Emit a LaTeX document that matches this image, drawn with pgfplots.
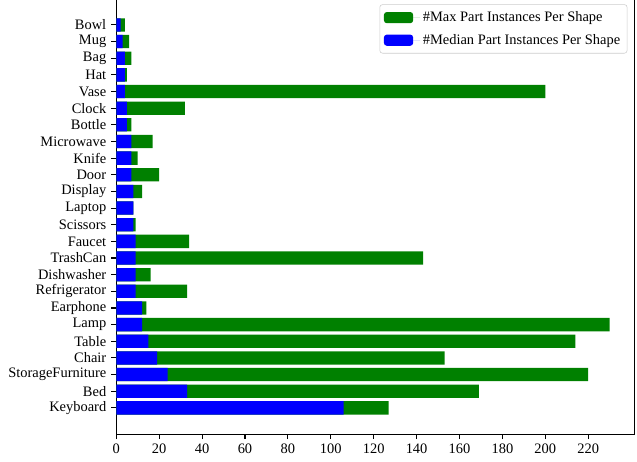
\documentclass[border=0pt]{standalone}
\usepackage{fontspec}
\setmainfont{Liberation Serif}
\usepackage{pgfplots}
\pgfplotsset{compat=1.18}
\definecolor{mplgreen}{HTML}{008000}
\definecolor{mplblue}{HTML}{0000FF}
\begin{document}
\fontsize{10.4bp}{12.4bp}\selectfont
\begin{tikzpicture}
    \begin{axis}[
            scale only axis,
            width=373bp, height=313.8bp,
            xmin=0, xmax=241.5,
            ymin=-1.59, ymax=24.59,
            xtick={0,20,...,220},
            ytick={0,...,23},
            yticklabels={Keyboard,Bed,StorageFurniture,Chair,Table,Lamp,Earphone,Refrigerator,Dishwasher,TrashCan,Faucet,Scissors,Laptop,Display,Door,Knife,Microwave,Bottle,Clock,Vase,Hat,Bag,Mug,Bowl},
            tick align=outside,
            major tick length=3.5bp,
            tick style={line width=0.8bp, black},
            axis line style={line width=0.8bp},
            xtick pos=bottom, ytick pos=left,
            yticklabel style={inner sep=0pt, xshift=-3.5bp},
            xticklabel style={inner sep=0pt, yshift=-3.5bp},
            /pgf/number format/assume math mode=true,
            ticklabel style={font=\fontsize{10.4bp}{12.4bp}\selectfont},
            xbar, bar width=0.8, bar shift=0pt,
            legend cell align=left,
            legend style={
                at={(0.9866,0.9866)}, anchor=north east,
                draw=black!20, rounded corners=2bp, fill=white,
                font=\fontsize{10.4bp}{12.4bp}\selectfont,
                inner xsep=3bp, inner ysep=3bp,
                row sep=3.5bp
            },
            legend image code/.code={
                \fill[#1] (0bp,-4bp) rectangle (21bp,4bp);
                \path (0bp,0bp) -- (26bp,0bp);
            },
        ]
        % max part instances per shape
        \addplot[fill=mplgreen, draw=none] coordinates {
                (127,0) (169,1) (220,2) (153,3) (214,4) (230,5) (14,6) (33,7)
                (16,8) (143,9) (34,10) (9,11) (8,12) (12,13) (20,14) (10,15)
                (17,16) (7,17) (32,18) (200,19) (5,20) (7,21) (6,22) (4,23)
            };
        \addlegendentry{\#Max Part Instances Per Shape}
        % median part instances per shape
        \addplot[fill=mplblue, draw=none] coordinates {
                (106,0) (33,1) (24,2) (19,3) (15,4) (12,5) (12,6) (9,7)
                (9,8) (9,9) (9,10) (8,11) (8,12) (8,13) (7,14) (7,15)
                (7,16) (5,17) (5,18) (4,19) (4,20) (4,21) (3,22) (2,23)
            };
        \addlegendentry{\#Median Part Instances Per Shape}
    \end{axis}
    \pgfresetboundingbox
    \path (-83.7bp,-19.2bp) rectangle (374.9bp,312.7bp);
\end{tikzpicture}
\end{document}
